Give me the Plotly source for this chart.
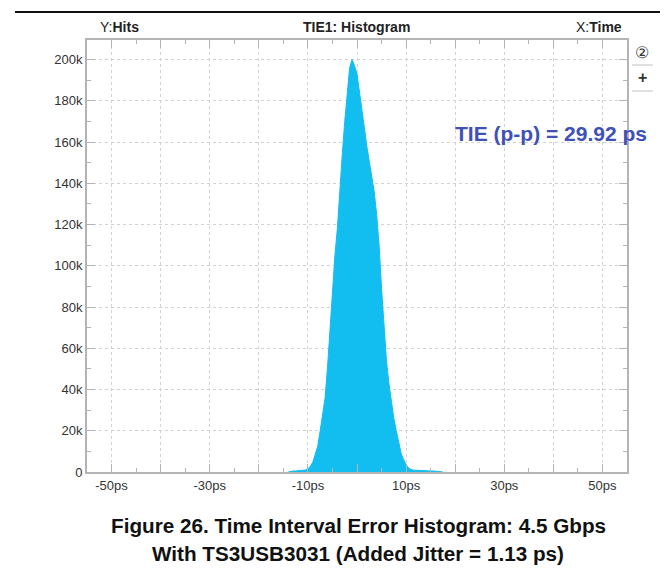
import plotly.graph_objects as go

# Histogram bin centres (ps) and hits (thousands)
time_ps = [-14.0, -13.5, -13.0, -12.5, -12.0, -11.5, -11.0, -10.5, -10.0, -9.5,
           -9.0, -8.5, -8.0, -7.5, -7.0, -6.5, -6.0, -5.5, -5.0, -4.5,
           -4.0, -3.5, -3.0, -2.5, -2.0, -1.5, -1.0, -0.5, 0.0, 0.5,
           1.0, 1.5, 2.0, 2.5, 3.0, 3.5, 4.0, 4.5, 5.0, 5.5,
           6.0, 6.5, 7.0, 7.5, 8.0, 8.5, 9.0, 9.5, 10.0, 10.5,
           11.0, 11.5, 12.0, 12.5, 13.0, 13.5, 14.0, 14.5, 15.0, 15.5,
           16.0, 16.5, 17.0, 17.5]
hits_k = [0.0, 0.4, 0.5, 0.5, 0.6, 0.7, 0.8, 1.0, 1.6, 2.8,
          4.8, 8.3, 12.5, 20, 28, 36, 51, 71, 90, 105,
          118, 138, 154, 170, 184, 196, 200, 197, 193, 185,
          177, 167, 158, 151, 144, 136, 125, 110, 89, 70,
          54, 43, 34, 26, 20, 14, 9, 6, 3.5, 2.0,
          1.2, 0.9, 0.8, 0.7, 0.7, 0.6, 0.6, 0.5, 0.5, 0.5,
          0.4, 0.4, 0.3, 0.0]

x_tickvals = [-50, -40, -30, -20, -10, 0, 10, 20, 30, 40, 50]
x_ticktext = ["-50ps", "", "-30ps", "", "-10ps", "", "10ps", "", "30ps", "", "50ps"]
y_tickvals = [0, 20000, 40000, 60000, 80000, 100000, 120000, 140000, 160000, 180000, 200000]
y_ticktext = ["0", "20k", "40k", "60k", "80k", "100k", "120k", "140k", "160k", "180k", "200k"]

hits = [v * 1000 for v in hits_k]

FONT = "Liberation Sans, Arial, sans-serif"
FRAME = "#b4b4b4"
GRID = "#d2d2d2"

W, H = 671, 583
ML, MR, MT, MB = 87, 44, 40, 111
PW, PH = W - ML - MR, H - MT - MB

def px(x):
    return (x - ML) / PW

def py(y):
    return (H - MB - y) / PH

fig = go.Figure()
fig.add_trace(go.Scatter(
    x=time_ps, y=hits, mode="lines", fill="tozeroy",
    line=dict(color="#12BDF0", width=1), fillcolor="#12BDF0",
    hoverinfo="skip", showlegend=False,
))

fig.update_layout(
    width=W, height=H,
    margin=dict(l=ML, r=MR, t=MT, b=MB),
    paper_bgcolor="white", plot_bgcolor="white",
    font=dict(family=FONT, color="#333333", size=13),
    showlegend=False,
)

fig.update_xaxes(
    range=[-55, 55], tickvals=x_tickvals, ticktext=x_ticktext,
    showgrid=True, gridcolor=GRID, griddash="dot", gridwidth=1,
    zeroline=False, showline=True, linecolor=FRAME, linewidth=2, mirror="allticks",
    ticks="inside", ticklen=8, tickcolor=FRAME, tickwidth=1,
    minor=dict(dtick=5, tick0=0, ticks="inside", ticklen=4, tickcolor=FRAME, showgrid=False),
    tickfont=dict(size=13, color="#333333", family=FONT),
)
fig.update_yaxes(
    range=[0, 209500], tickvals=y_tickvals, ticktext=y_ticktext,
    showgrid=True, gridcolor=GRID, griddash="dot", gridwidth=1,
    zeroline=False, showline=True, linecolor=FRAME, linewidth=2, mirror="allticks",
    ticks="inside", ticklen=8, tickcolor=FRAME, tickwidth=1,
    minor=dict(dtick=10000, tick0=0, ticks="inside", ticklen=4, tickcolor=FRAME, showgrid=False),
    tickfont=dict(size=13, color="#333333", family=FONT),
)

ann = []
def paper_text(text, x, y, size, color="#222222", xanchor="center"):
    ann.append(dict(text=text, x=px(x), y=py(y), xref="paper", yref="paper",
                    showarrow=False, xanchor=xanchor, yanchor="middle",
                    font=dict(size=size, color=color, family=FONT)))

paper_text("Y:<b>Hits</b>", 98, 27, 14, xanchor="left")
paper_text("<b>TIE1: Histogram</b>", 356, 27, 14)
paper_text("X:<b>Time</b>", 624, 27, 14, xanchor="right")
paper_text("<b>TIE (p-p) = 29.92 ps</b>", 551, 133, 21, color="#4050B8")
paper_text("②", 642, 52, 16, color="#333333")
paper_text("<b>+</b>", 642, 78, 16, color="#333333")
paper_text("<b>Figure 26. Time Interval Error Histogram: 4.5 Gbps</b>", 358, 525, 20.7, color="#111111")
paper_text("<b>With TS3USB3031 (Added Jitter = 1.13 ps)</b>", 358, 553, 20.7, color="#111111")
fig.update_layout(annotations=ann)

def hline(x0, x1, y, color, width):
    return dict(type="line", xref="paper", yref="paper", x0=px(x0), x1=px(x1),
                y0=py(y), y1=py(y), line=dict(color=color, width=width))

fig.update_layout(shapes=[
    hline(15, 660, 12, "#111111", 2),
    hline(632, 653, 65, "#c0c0c0", 1),
    hline(632, 653, 91, "#c0c0c0", 1),
])

fig.write_html("out.html")
